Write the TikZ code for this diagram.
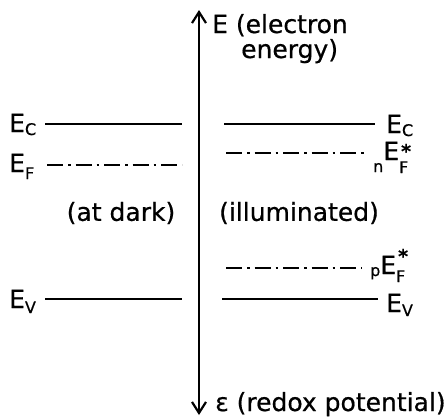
\documentclass[tikz,border=0pt]{standalone}
\usepackage{fontspec}
\setmainfont{DejaVu Sans}[FakeBold=0.6]
\usetikzlibrary{arrows.meta}
\newcommand\lsub[2]{\raisebox{#1}{\fontsize{16}{16}\selectfont #2}}
\newcommand\lstar[1]{\rlap{\raisebox{#1}{\kern2pt\fontsize{19}{19}\selectfont\bfseries *}}}
\begin{document}
\begin{tikzpicture}[x=1pt,y=-1pt,
  lvl/.style={line width=2.8pt},
  ddot/.style={line width=2.6pt,dash pattern=on 16pt off 5pt on 2.5pt off 5pt},
  lab/.style={font=\fontsize{25}{28}\selectfont, inner sep=0pt},
  axarrow/.style={line width=2.2pt,-{Straight Barb[length=11pt,width=14pt,line width=2.2pt]}}]
\useasboundingbox (0,0) rectangle (445,418);
% axis
\coordinate (mid) at (199,210);
\coordinate (top) at (199,10);
\coordinate (bot) at (199,415);
\draw[axarrow] (mid) -- (top);
\draw[axarrow] (mid) -- (bot);
\node[lab,anchor=base west] (Etop) at (212,33) {E (electron};
\node[lab,anchor=base west] (Etop2) at (241,58) {energy)};
\node[lab,anchor=base west] (Ebot) at (215,411) {ε (redox potential)};
% left side
\node[lab,anchor=base west] (lEC) at (9,132) {E\lsub{-3pt}{C}};
\node[lab,anchor=base west] (lEF) at (9,172) {E\lsub{-7pt}{F}};
\node[lab,anchor=base west] (lEV) at (9,308) {E\lsub{-5pt}{V}};
\coordinate (lc1) at (45,124); \coordinate (lc2) at (182,124);
\coordinate (lf1) at (47,165); \coordinate (lf2) at (182,165);
\coordinate (lv1) at (45,299); \coordinate (lv2) at (182,299);
\draw[lvl] (lc1) -- (lc2);
\draw[ddot] (lf1) -- (lf2);
\draw[lvl] (lv1) -- (lv2);
\node[lab] (dark) at (121,213) {(at dark)};
\node[lab] (ill) at (299,213) {(illuminated)};
% right side
\coordinate (rc1) at (224,124); \coordinate (rc2) at (375,124);
\coordinate (rn1) at (226,153); \coordinate (rn2) at (367,153);
\coordinate (rp1) at (226,268); \coordinate (rp2) at (362,268);
\coordinate (rv1) at (222,299); \coordinate (rv2) at (378,299);
\draw[lvl] (rc1) -- (rc2);
\draw[ddot] (rn1) -- (rn2);
\draw[ddot] (rp1) -- (rp2);
\draw[lvl] (rv1) -- (rv2);
\node[lab,anchor=base west] (rEC) at (386,133) {E\lsub{-3pt}{C}};
\node[lab,anchor=base west] (rnEF) at (373,160) {\lsub{-12pt}{n}E\lstar{2pt}\lsub{-13pt}{F}};
\node[lab,anchor=base west] (rpEF) at (370,274) {\lsub{-2pt}{p}E\lstar{11pt}\lsub{-8pt}{F}};
\node[lab,anchor=base west] (rEV) at (386,312) {E\lsub{-4pt}{V}};
\end{tikzpicture}
\end{document}
